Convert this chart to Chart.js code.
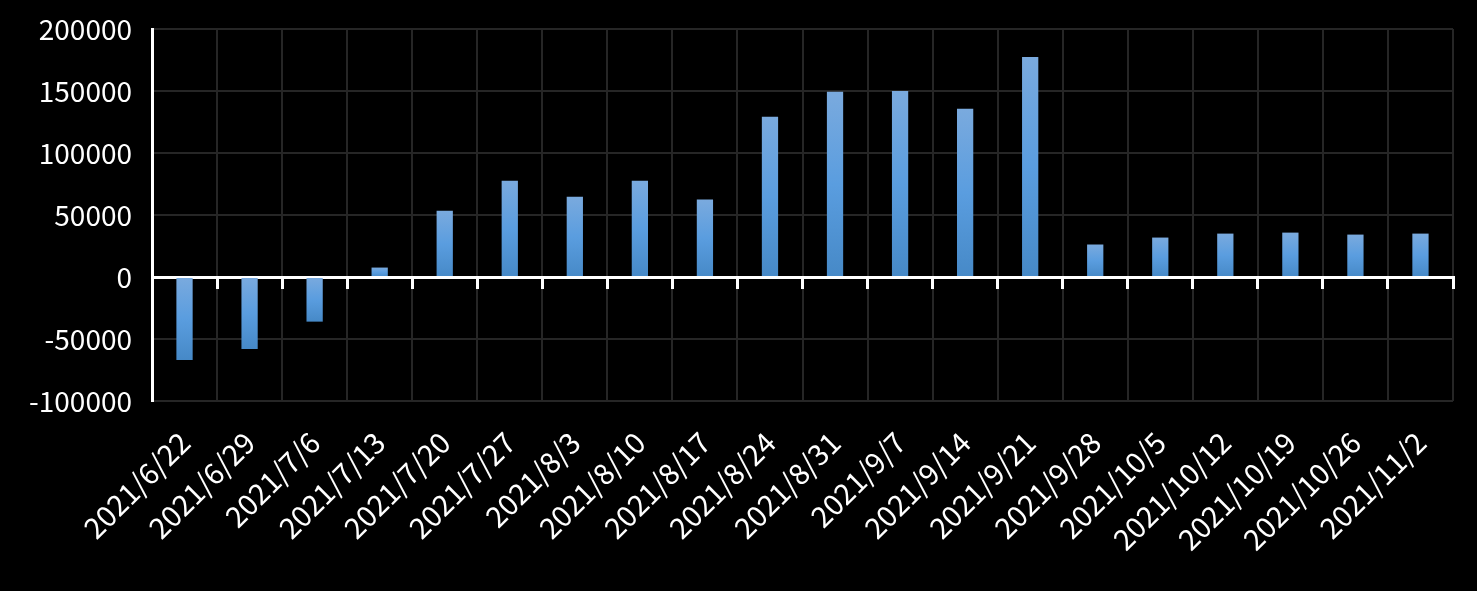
<!DOCTYPE html>
<html>
<head>
<meta charset="utf-8">
<script src="https://cdn.jsdelivr.net/npm/chart.js@4"></script>
<style>
  html, body { margin: 0; padding: 0; background: #000; }
  #wrap { width: 1477px; height: 591px; }
</style>
</head>
<body>
<div id="wrap"><canvas id="weeklyChart"></canvas></div>
<script>
// values
const weeks = ['2021/6/22', '2021/6/29', '2021/7/6', '2021/7/13', '2021/7/20', '2021/7/27', '2021/8/3',
    '2021/8/10', '2021/8/17', '2021/8/24', '2021/8/31', '2021/9/7', '2021/9/14', '2021/9/21',
    '2021/9/28', '2021/10/5', '2021/10/12', '2021/10/19', '2021/10/26', '2021/11/2'];
const netValues = [-67000, -58000, -36000, 7600, 53500, 77700, 64800, 77700, 62400, 129200,
    149300, 150100, 135600, 177500, 26200, 31800, 35000, 35800, 34200, 35000];
const yMin = -100000, yMax = 200000, yStep = 50000;

const fontFamily = '"Noto Sans CJK TC", "Noto Sans", sans-serif';
const gridGray = '#262626';

// vertical gradient per bar, light at the top, darker at the bottom
function barFill(ctx) {
    const chart = ctx.chart;
    if (!chart.chartArea) return '#5a9ddf';
    const y = chart.scales.y;
    const a = y.getPixelForValue(0);
    const b = y.getPixelForValue(ctx.raw);
    const top = Math.min(a, b), bottom = Math.max(a, b);
    if (bottom - top < 1) return '#5a9ddf';
    const g = chart.ctx.createLinearGradient(0, top, 0, bottom);
    g.addColorStop(0, '#7aaade');
    g.addColorStop(0.5, '#5a9ddf');
    g.addColorStop(1, '#4689c7');
    return g;
}

new Chart(document.getElementById('weeklyChart'), {
    type: 'bar',
    data: {
        labels: weeks,
        datasets: [{
            data: netValues,
            backgroundColor: barFill,
            borderWidth: 0,
            barPercentage: 0.25,
            categoryPercentage: 1
        }]
    },
    options: {
        responsive: true,
        maintainAspectRatio: false,
        animation: false,
        layout: { padding: { top: 29, right: 24, left: 10 } },
        plugins: {
            legend: { display: false },
            tooltip: { enabled: false }
        },
        scales: {
            x: {
                offset: true,
                grid: { offset: true, color: gridGray, lineWidth: 2, drawTicks: false },
                border: { display: false },
                ticks: {
                    color: '#fff',
                    font: { family: fontFamily, size: 29 },
                    minRotation: 45,
                    maxRotation: 45,
                    padding: 24,
                    autoSkip: false
                },
                afterFit: function (scale) {
                    scale.height = 190;
                    scale.paddingLeft = 0;
                    scale.paddingRight = 0;
                }
            },
            // zero line with its small tick marks
            x2: {
                type: 'category',
                position: { y: 0 },
                offset: true,
                grid: { offset: true, drawOnChartArea: false, color: '#fff', lineWidth: 3, tickLength: 10 },
                border: { color: '#fff', width: 3 },
                ticks: { display: false }
            },
            y: {
                min: yMin,
                max: yMax,
                grid: { color: gridGray, lineWidth: 2, drawTicks: false },
                border: { color: '#fff', width: 3 },
                ticks: {
                    stepSize: yStep,
                    color: '#fff',
                    padding: 20,
                    font: { family: fontFamily, size: 28 },
                    callback: function (v) { return String(v); }
                },
                afterFit: function (scale) {
                    scale.width = 142;
                    scale.paddingTop = 0;
                    scale.paddingBottom = 0;
                }
            }
        }
    }
});
</script>
</body>
</html>
